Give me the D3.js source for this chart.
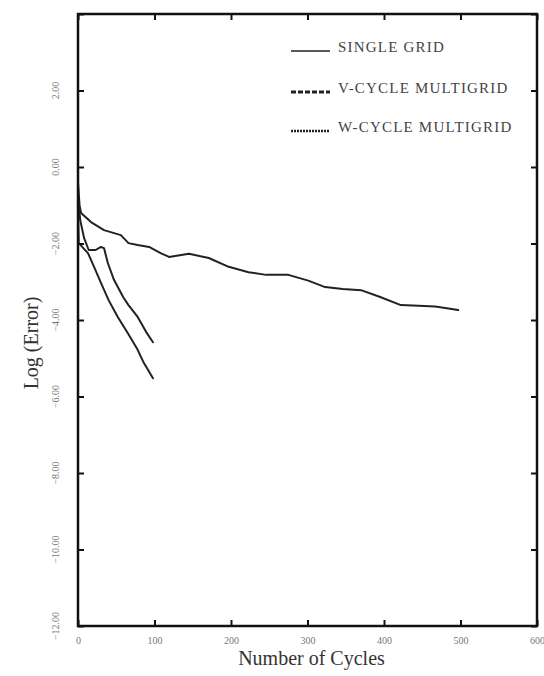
<!DOCTYPE html>
<html>
<head>
<meta charset="utf-8">
<script src="https://cdn.jsdelivr.net/npm/d3@7"></script>
<style>
  html, body { margin: 0; padding: 0; background: #fff; }
  svg { display: block; }
</style>
</head>
<body>
<svg id="chart" width="544" height="676"></svg>
<script>
// ---- Data ----
const seriesNames = ["SINGLE GRID", "V-CYCLE MULTIGRID", "W-CYCLE MULTIGRID"];

const singleCycles = [0, 2, 4, 17, 34, 56, 66, 78, 93, 108, 119, 145, 171, 197, 223, 246, 275, 301, 323, 346, 370, 395, 422, 445, 467, 497];
const singleErr    = [-0.4, -1.0, -1.2, -1.44, -1.65, -1.78, -1.99, -2.04, -2.09, -2.25, -2.35, -2.27, -2.38, -2.61, -2.75, -2.82, -2.82, -2.97, -3.14, -3.19, -3.22, -3.40, -3.61, -3.63, -3.65, -3.74];

const vCycles = [0, 3, 8, 14, 23, 30, 34, 39, 47, 59, 66, 78, 89, 98];
const vErr    = [-0.8, -1.4, -1.86, -2.17, -2.17, -2.09, -2.12, -2.51, -2.95, -3.40, -3.61, -3.92, -4.31, -4.58];

const wCycles = [0, 1, 13, 21, 30, 40, 52, 65, 78, 86, 98];
const wErr    = [-1.2, -1.99, -2.25, -2.61, -3.03, -3.48, -3.92, -4.34, -4.78, -5.12, -5.52];

const xTicks = [0, 100, 200, 300, 400, 500, 600];
const yTicks = [-12, -10, -8, -6, -4, -2, 0, 2];
const yTickMarks = [-12, -10, -8, -6, -4, -2, 0, 2, 4];

// ---- Layout ----
const svg = d3.select("#chart");
const pL = 78, pR = 537, pT = 14, pB = 626;

const x = d3.scaleLinear().domain([0, 600]).range([pL, pR]);
const y = d3.scaleLinear().domain([-12, 4]).range([pB, pT]);

const serif = "'Liberation Serif', 'Times New Roman', serif";

// Series lines
const series = [
  { name: seriesNames[0], xs: singleCycles, ys: singleErr },
  { name: seriesNames[1], xs: vCycles, ys: vErr },
  { name: seriesNames[2], xs: wCycles, ys: wErr }
];
const line = d3.line().x(d => x(d[0])).y(d => y(d[1])).curve(d3.curveLinear);

const plot = svg.append("g");
series.forEach(s => {
  const pts = s.xs.map((c, i) => [c, s.ys[i]]);
  plot.append("path")
    .datum(pts)
    .attr("fill", "none")
    .attr("stroke", "#222")
    .attr("stroke-width", 2)
    .attr("stroke-linejoin", "round")
    .attr("stroke-linecap", "round")
    .attr("d", line);
});

// Axes: ticks pointing inward
const axB = d3.axisBottom(x).tickValues(xTicks).tickSize(-6).tickPadding(11).tickFormat(d3.format("d"));
const gB = svg.append("g").attr("transform", `translate(0,${pB})`).call(axB);
const axT = d3.axisTop(x).tickValues(xTicks).tickSize(-6).tickFormat("");
const gT = svg.append("g").attr("transform", `translate(0,${pT})`).call(axT);
const axL = d3.axisLeft(y).tickValues(yTickMarks).tickSize(-6).tickFormat("");
const gL = svg.append("g").attr("transform", `translate(${pL},0)`).call(axL);
const axR = d3.axisRight(y).tickValues(yTickMarks).tickSize(-6).tickFormat("");
const gR = svg.append("g").attr("transform", `translate(${pR},0)`).call(axR);

[gB, gT, gL, gR].forEach(g => {
  g.select(".domain").remove();
  g.selectAll(".tick line").attr("stroke", "#111").attr("stroke-width", 2);
});
gB.selectAll(".tick text")
  .attr("font-family", serif).attr("font-size", 10).attr("fill", "#777");

// Y tick labels, rotated
svg.append("g").selectAll("text")
  .data(yTicks)
  .join("text")
  .attr("transform", d => `translate(55,${y(d)}) rotate(-90)`)
  .attr("text-anchor", "middle")
  .attr("dominant-baseline", "central")
  .attr("font-family", serif)
  .attr("font-size", 10)
  .attr("fill", "#777")
  .text(d => d3.format(".2f")(d));

// Frame
svg.append("rect")
  .attr("x", pL).attr("y", pT)
  .attr("width", pR - pL).attr("height", pB - pT)
  .attr("fill", "none").attr("stroke", "#111").attr("stroke-width", 2.5);

// Axis titles
svg.append("text")
  .attr("x", (pL + pR) / 2 + 4).attr("y", 665)
  .attr("text-anchor", "middle")
  .attr("font-family", serif).attr("font-size", 20).attr("fill", "#333")
  .text("Number of Cycles");

svg.append("text")
  .attr("transform", `translate(31,343) rotate(-90)`)
  .attr("text-anchor", "middle")
  .attr("dominant-baseline", "central")
  .attr("font-family", serif).attr("font-size", 20).attr("fill", "#333")
  .text("Log (Error)");

// Legend
const legendY = [47, 88, 127];
const legendStyles = [
  { w: 1.6, dash: null },
  { w: 3, dash: "5,2" },
  { w: 2.4, dash: "2,1" }
];
const lg = svg.append("g");
seriesNames.forEach((name, i) => {
  lg.append("line")
    .attr("x1", 291).attr("x2", 330)
    .attr("y1", legendY[i] + 4).attr("y2", legendY[i] + 4)
    .attr("stroke", "#222")
    .attr("stroke-width", legendStyles[i].w)
    .attr("stroke-dasharray", legendStyles[i].dash);
  lg.append("text")
    .attr("x", 338).attr("y", legendY[i] + 5)
    .attr("font-family", serif).attr("font-size", 15).attr("fill", "#444")
    .attr("letter-spacing", 1.2)
    .text(name);
});
</script>
</body>
</html>
